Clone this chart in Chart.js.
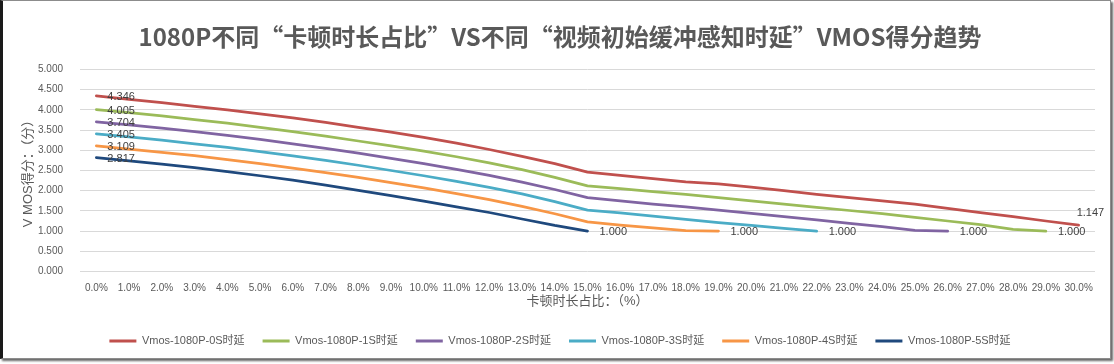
<!DOCTYPE html>
<html><head><meta charset="utf-8">
<script src="https://cdn.jsdelivr.net/npm/chart.js@4.4.1/dist/chart.umd.min.js"></script>
<style>
html,body{margin:0;padding:0;background:#fff;overflow:hidden;}
#wrap{position:relative;width:1114px;height:364px;}
#frame{position:absolute;left:0;top:0;width:1107px;height:357px;border:1px solid #8c8c8c;border-left:3px solid #1a1a1a;box-shadow:2px 2px 2px rgba(0,0,0,0.6);pointer-events:none;}
</style></head><body>
<div id="wrap"><canvas id="c" width="1114" height="364"></canvas><div id="frame"></div></div>
<script>
const categories = ['0.0%','1.0%','2.0%','3.0%','4.0%','5.0%','6.0%','7.0%','8.0%','9.0%','10.0%',
  '11.0%','12.0%','13.0%','14.0%','15.0%','16.0%','17.0%','18.0%','19.0%','20.0%',
  '21.0%','22.0%','23.0%','24.0%','25.0%','26.0%','27.0%','28.0%','29.0%','30.0%'];
const seriesNames = ['Vmos-1080P-0S时延','Vmos-1080P-1S时延','Vmos-1080P-2S时延','Vmos-1080P-3S时延','Vmos-1080P-4S时延','Vmos-1080P-5S时延'];
const vmos0s = [4.346,4.26,4.18,4.09,4.00,3.90,3.80,3.69,3.57,3.45,3.32,3.18,3.02,2.85,2.67,2.46,2.38,2.30,2.22,2.17,2.09,2.00,1.91,1.83,1.75,1.67,1.56,1.46,1.36,1.25,1.147];
const vmos1s = [4.005,3.93,3.85,3.76,3.67,3.57,3.46,3.35,3.23,3.11,2.98,2.84,2.69,2.52,2.33,2.12,2.05,1.98,1.91,1.83,1.75,1.67,1.59,1.51,1.43,1.34,1.25,1.16,1.04,1.000];
const vmos2s = [3.704,3.63,3.55,3.46,3.37,3.27,3.16,3.05,2.93,2.80,2.67,2.53,2.38,2.21,2.03,1.83,1.75,1.67,1.60,1.52,1.44,1.36,1.28,1.19,1.11,1.02,1.000];
const vmos3s = [3.405,3.33,3.25,3.16,3.07,2.97,2.86,2.75,2.63,2.50,2.37,2.23,2.08,1.92,1.73,1.52,1.45,1.37,1.29,1.21,1.14,1.07,1.000];
const vmos4s = [3.109,3.03,2.95,2.87,2.77,2.67,2.56,2.45,2.33,2.20,2.07,1.93,1.78,1.61,1.43,1.23,1.15,1.08,1.01,1.000];
const vmos5s = [2.817,2.74,2.66,2.57,2.47,2.37,2.26,2.14,2.01,1.88,1.74,1.60,1.46,1.30,1.14,1.000];
const seriesColors = ['#C0504D','#9BBB59','#8064A2','#4BACC6','#F79646','#1F497D'];
const yTicks = [0,0.5,1,1.5,2,2.5,3,3.5,4,4.5,5];

const FONT = '"Liberation Sans","Noto Sans CJK SC",sans-serif';
const allSeries = [vmos0s,vmos1s,vmos2s,vmos3s,vmos4s,vmos5s];

const labelPlugin = {
  id:'pointLabels',
  afterDatasetsDraw(chart){
    const ctx = chart.ctx;
    ctx.save();
    ctx.font = '11px ' + FONT;
    ctx.fillStyle = '#404040';
    ctx.textBaseline = 'middle';
    ctx.textAlign = 'left';
    chart.data.datasets.forEach((ds,i)=>{
      const pts = chart.getDatasetMeta(i).data;
      const f = pts[0], l = pts[pts.length-1];
      ctx.fillText(ds.data[0].toFixed(3), f.x+11, f.y+1);
      const lv = ds.data[ds.data.length-1].toFixed(3);
      if (i===0) ctx.fillText(lv, l.x-2, l.y-12);
      else ctx.fillText(lv, l.x+12, l.y+1);
    });
    ctx.restore();
  }
};

new Chart(document.getElementById('c'), {
  type:'line',
  data:{
    labels: categories,
    datasets: allSeries.map((d,i)=>({
      label: seriesNames[i], data: d,
      borderColor: seriesColors[i], backgroundColor: seriesColors[i],
      borderWidth: 2.75, pointRadius: 0, pointHoverRadius: 0, tension: 0,
      borderCapStyle:'round', borderJoinStyle:'round', fill:false
    }))
  },
  options:{
    responsive:false, animation:false, events:[],
    layout:{padding:{left:25,right:19,top:0,bottom:7.5}},
    plugins:{
      title:{display:true, text:'1080P不同“卡顿时长占比”VS不同“视频初始缓冲感知时延”VMOS得分趋势',
        color:'#595959', font:{family:'"Noto Sans CJK SC",sans-serif', size:24, weight:'bold', lineHeight:1.2},
        padding:{top:22,bottom:18.7}},
      legend:{position:'bottom',
        labels:{color:'#595959', font:{family:FONT,size:11}, boxWidth:27, boxHeight:3, padding:18,
          generateLabels(chart){
            return chart.data.datasets.map((ds,i)=>({text:ds.label, fillStyle:ds.borderColor, strokeStyle:ds.borderColor, lineWidth:0, hidden:false, datasetIndex:i, fontColor:'#595959'}));
          }}},
      tooltip:{enabled:false}
    },
    scales:{
      x:{type:'category', offset:true,
        grid:{display:false, drawTicks:false}, border:{display:false},
        ticks:{color:'#595959', font:{family:FONT,size:10}, autoSkip:false, maxRotation:0, minRotation:0, padding:11},
        title:{display:true, text:'卡顿时长占比：（%）', color:'#595959', font:{family:FONT,size:13,lineHeight:1.2}, padding:{top:0,bottom:8}},
        afterFit(s){ s.height = 46; }
      },
      y:{min:0, max:5,
        grid:{color:'#d9d9d9', lineWidth:1, drawTicks:false}, border:{display:false},
        afterBuildTicks(s){ s.ticks = yTicks.map(v=>({value:v})); },
        ticks:{color:'#595959', font:{family:FONT,size:10}, padding:17, callback:(v)=>Number(v).toFixed(3)},
        title:{display:true, text:'V MOS得分：（分）', color:'#595959', font:{family:FONT,size:13,lineHeight:1.2}, padding:{top:-4,bottom:0}},
        afterFit(s){ s.width = 55; }
      }
    }
  },
  plugins:[labelPlugin]
});
</script>
</body></html>
